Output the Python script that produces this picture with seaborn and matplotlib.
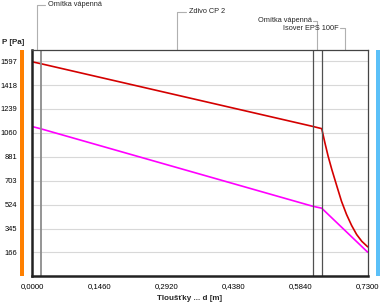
import matplotlib
matplotlib.use("Agg")
import matplotlib.pyplot as plt
import matplotlib.transforms as mtransforms
from matplotlib.patches import Rectangle
import seaborn as sns

# vrstvy konstrukce (hranice v m)
layer_names = ["Omítka vápenná", "Zdivo CP 2", "Omítka vápenná", "Isover EPS 100F"]
layer_edges = [0.0, 0.02, 0.61, 0.63, 0.73]

# tlak nasycené vodní páry
d_sat = [0.0, 0.02, 0.61, 0.63, 0.637, 0.644, 0.652, 0.663, 0.673, 0.684, 0.695, 0.706, 0.717, 0.73]
p_sat = [1592, 1577, 1109, 1092, 985, 885, 786, 661, 549, 450, 368, 300, 250, 208]

# částečný tlak vodní páry
d_vap = [0.0, 0.02, 0.61, 0.63, 0.73]
p_vap = [1108, 1090, 512, 497, 168]

y_ticks = [166, 345, 524, 703, 881, 1060, 1239, 1418, 1597]
x_ticks = [0.0, 0.073, 0.146, 0.219, 0.292, 0.365, 0.438, 0.511, 0.584, 0.657, 0.73]
x_labels = ["0,0000", "", "0,1460", "", "0,2920", "", "0,4380", "", "0,5840", "", "0,7300"]

sns.set_style("white")
plt.rcParams['font.family'] = ['Liberation Sans', 'DejaVu Sans']

W, H = 380, 304
fig = plt.figure(figsize=(W / 100, H / 100), dpi=100)
ax = fig.add_axes([32 / W, 28 / H, 335.7 / W, 226 / H])

sns.lineplot(x=d_sat, y=p_sat, color="#d40000", lw=1.2, ax=ax)
sns.lineplot(x=d_vap, y=p_vap, color="#ff00ff", lw=1.2, ax=ax)

ax.set_xlim(0, 0.73)
ax.set_ylim(-10, 1680)
ax.set_yticks(y_ticks)
ax.set_yticklabels([str(v) for v in y_ticks])
ax.set_xticks(x_ticks)
ax.set_xticklabels(x_labels)
ax.grid(axis="y", color="#d8d8d8", lw=0.8)
ax.set_axisbelow(True)
ax.tick_params(axis="x", direction="in", length=4, color="#bbbbbb",
               labelsize=5.6, pad=5, labelcolor="black")
ax.tick_params(axis="y", direction="in", length=3, color="#aaaaaa",
               labelsize=5.4, pad=10.5, labelcolor="black")
ax.set_xlabel("")
ax.set_ylabel("")

for side in ["left", "bottom"]:
    ax.spines[side].set_color("#222222")
    ax.spines[side].set_linewidth(1.8)
for side in ["top", "right"]:
    ax.spines[side].set_color("#444444")
    ax.spines[side].set_linewidth(0.9)

# hranice vrstev
ax.axvline(layer_edges[1], color="#8c8c8c", lw=1.3)
for e in layer_edges[2:4]:
    ax.axvline(e, color="#505050", lw=0.9)

# popisky vrstev s vodicími čarami
trans = mtransforms.blended_transform_factory(ax.transData, ax.transAxes)
px = 0.73 / 335.7
tops = [1.200, 1.169, 1.130, 1.096]
stubs = [8, 9, -4, -5]
for name, a, b, top, stub in zip(layer_names, layer_edges[:-1], layer_edges[1:], tops, stubs):
    xm = (a + b) / 2
    xe = xm + stub * px
    ax.plot([xm, xm, xe], [1.0, top, top], color="#b0b0b0", lw=0.8,
            transform=trans, clip_on=False)
    if stub > 0:
        ax.text(xe + 3 * px, top, name, transform=trans, fontsize=5.3,
                ha="left", va="center")
    else:
        ax.text(xe - 1.5 * px, top, name, transform=trans, fontsize=5.3,
                ha="right", va="center")

# barevné pruhy po stranách
fig.add_artist(Rectangle((20 / W, 28 / H), 4 / W, 226 / H, transform=fig.transFigure,
                         color="#ff8000", lw=0))
fig.add_artist(Rectangle((376 / W, 28 / H), 4 / W, 226 / H, transform=fig.transFigure,
                         color="#5bc0f8", lw=0))

fig.text(2 / W, 1 - 42 / H, "P [Pa]", fontsize=5.8, fontweight="bold",
         ha="left", va="center")
fig.text(190 / W, 1 - 298 / H, "Tloušťky ... d [m]", fontsize=5.8, fontweight="bold",
         ha="center", va="center")

fig.savefig("out.png", dpi=100)
